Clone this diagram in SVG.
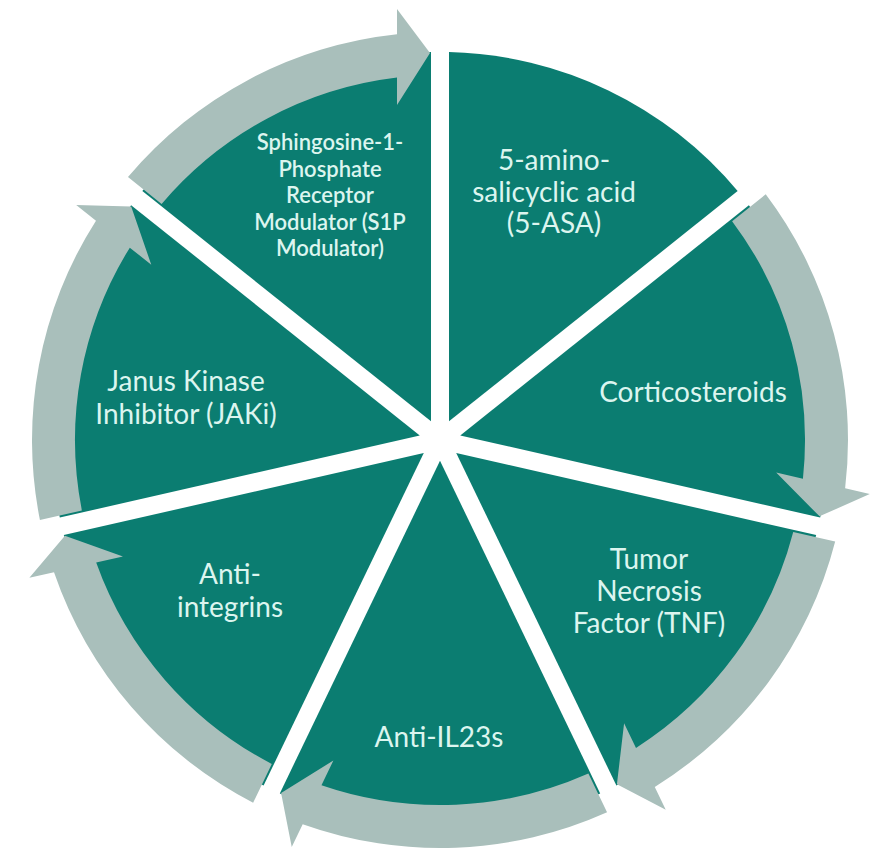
<svg xmlns="http://www.w3.org/2000/svg" width="871" height="851" viewBox="0 0 871 851">
  <style>
    .wedge { fill: #0b7d71; }
    .arrow { fill: #a9bfbb; }
    .label { font-family: Lato, "Liberation Sans", sans-serif; font-size: 28px; fill: #dcf5ef; text-anchor: middle; }
    .small { font-size: 22px; font-weight: 600; }
  </style>
  <defs>
    <!-- one seventh of the disc, spanning -90deg to -38.57deg, trimmed by half the gap width -->
    <path id="sector" d="M 9,-18.69 L 9,-387.9 A 388 388 0 0 1 297.66,-248.89 Z"/>
    <!-- curved arrow running clockwise along the rim, its head stopping at the -90deg gap -->
    <path id="rimArrow" d="M -312.01,-262.89 A 408 408 0 0 1 -43,-405.73 L -43,-431 L -10,-387 L -43,-335 L -43,-362.46 A 365 365 0 0 0 -278.38,-236.07 Z"/>
  </defs>

  <rect width="871" height="851" fill="#ffffff"/>

  <g id="nodes">
    <g id="s1p-modulator">
      <use href="#sector" class="wedge" transform="translate(440,440) rotate(-51.4286)"/>
      <text class="label small" x="330" y="150">Sphingosine-1-</text>
      <text class="label small" x="330" y="176.5">Phosphate</text>
      <text class="label small" x="330" y="203">Receptor</text>
      <text class="label small" x="330" y="229.5">Modulator (S1P</text>
      <text class="label small" x="330" y="256">Modulator)</text>
    </g>
    <g id="five-asa">
      <use href="#sector" class="wedge" transform="translate(440,440)"/>
      <text class="label" x="554" y="170">5-amino-</text>
      <text class="label" x="554" y="202">salicyclic acid</text>
      <text class="label" x="554" y="233">(5-ASA)</text>
    </g>
    <g id="corticosteroids">
      <use href="#sector" class="wedge" transform="translate(440,440) rotate(51.4286)"/>
      <text class="label" x="693" y="402">Corticosteroids</text>
    </g>
    <g id="tnf">
      <use href="#sector" class="wedge" transform="translate(440,440) rotate(102.8571)"/>
      <text class="label" x="649" y="569">Tumor</text>
      <text class="label" x="649" y="601">Necrosis</text>
      <text class="label" x="649" y="633">Factor (TNF)</text>
    </g>
    <g id="anti-il23s">
      <use href="#sector" class="wedge" transform="translate(440,440) rotate(154.2857)"/>
      <text class="label" x="439" y="747">Anti-IL23s</text>
    </g>
    <g id="anti-integrins">
      <use href="#sector" class="wedge" transform="translate(440,440) rotate(205.7143)"/>
      <text class="label" x="230" y="584">Anti-</text>
      <text class="label" x="230" y="617">integrins</text>
    </g>
    <g id="jaki">
      <use href="#sector" class="wedge" transform="translate(440,440) rotate(257.1429)"/>
      <text class="label" x="186" y="391">Janus Kinase</text>
      <text class="label" x="186" y="424">Inhibitor (JAKi)</text>
    </g>
  </g>

  <g id="connectors">
    <use href="#rimArrow" class="arrow" transform="translate(440,440)"/>
    <use href="#rimArrow" class="arrow" transform="translate(440,440) rotate(102.8571)"/>
    <use href="#rimArrow" class="arrow" transform="translate(440,440) rotate(154.2857)"/>
    <use href="#rimArrow" class="arrow" transform="translate(440,440) rotate(205.7143)"/>
    <use href="#rimArrow" class="arrow" transform="translate(440,440) rotate(257.1429)"/>
    <use href="#rimArrow" class="arrow" transform="translate(440,440) rotate(308.5714)"/>
  </g>
</svg>
